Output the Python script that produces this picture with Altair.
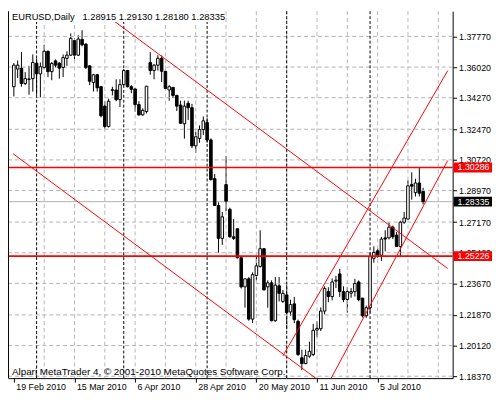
import altair as alt
import pandas as pd

# ---------------- data ----------------
dates = ["19 Feb","22 Feb","23 Feb","24 Feb","25 Feb","26 Feb",
         "1 Mar","2 Mar","3 Mar","4 Mar","5 Mar","8 Mar","9 Mar","10 Mar","11 Mar","12 Mar",
         "15 Mar","16 Mar","17 Mar","18 Mar","19 Mar","22 Mar","23 Mar","24 Mar","25 Mar","26 Mar",
         "29 Mar","30 Mar","31 Mar","1 Apr","2 Apr","5 Apr","6 Apr","7 Apr","8 Apr","9 Apr",
         "12 Apr","13 Apr","14 Apr","15 Apr","16 Apr","19 Apr","20 Apr","21 Apr","22 Apr","23 Apr",
         "26 Apr","27 Apr","28 Apr","29 Apr","30 Apr","3 May","4 May","5 May","6 May","7 May",
         "10 May","11 May","12 May","13 May","14 May","17 May","18 May","19 May","20 May","21 May",
         "24 May","25 May","26 May","27 May","28 May","31 May","1 Jun","2 Jun","3 Jun","4 Jun",
         "7 Jun","8 Jun","9 Jun","10 Jun","11 Jun","14 Jun","15 Jun","16 Jun","17 Jun","18 Jun",
         "21 Jun","22 Jun","23 Jun","24 Jun","25 Jun","28 Jun","29 Jun","30 Jun","1 Jul","2 Jul",
         "5 Jul","6 Jul","7 Jul","8 Jul","9 Jul","12 Jul","13 Jul","14 Jul","15 Jul","16 Jul",
         "19 Jul","20 Jul","21 Jul"]

opens = [1.3490,1.3591,1.3595,1.3508,1.3534,1.3536,1.3624,1.3563,1.3600,1.3692,
         1.3576,1.3637,1.3624,1.3600,1.3652,1.3670,1.3753,1.3670,1.3760,1.3733,
         1.3609,1.3514,1.3558,1.3490,1.3379,1.3263,1.3469,1.3471,1.3416,1.3502,
         1.3582,1.3490,1.3477,1.3388,1.3329,1.3348,1.3628,1.3582,1.3613,1.3652,
         1.3578,1.3471,1.3486,1.3440,1.3385,1.3278,1.3395,1.3370,1.3152,1.3195,
         1.3245,1.3285,1.3186,1.2965,1.2812,1.2624,1.2931,1.2790,1.2633,1.2679,
         1.2513,1.2347,1.2393,1.2163,1.2412,1.2463,1.2565,1.2347,1.2370,1.2154,
         1.2353,1.2264,1.2301,1.2204,1.2250,1.2150,1.1942,1.1909,1.1951,1.1961,
         1.2100,1.2108,1.2209,1.2320,1.2292,1.2380,1.2421,1.2320,1.2275,1.2311,
         1.2320,1.2375,1.2283,1.2182,1.2228,1.2510,1.2553,1.2528,1.2627,1.2627,
         1.2688,1.2642,1.2578,1.2716,1.2734,1.2931,1.2885,1.2940,1.28915]
highs = [1.3625,1.3640,1.3687,1.3573,1.3609,1.3674,1.3650,1.3628,1.3729,1.3697,
         1.3631,1.3646,1.3631,1.3674,1.3692,1.3794,1.3766,1.3784,1.3812,1.3738,
         1.3612,1.3563,1.3563,1.3493,1.3407,1.3421,1.3490,1.3532,1.3532,1.3591,
         1.3586,1.3499,1.3481,1.3407,1.3366,1.3493,1.3687,1.3619,1.3670,1.3668,
         1.3578,1.3499,1.3486,1.3444,1.3410,1.3410,1.3410,1.3392,1.3232,1.3269,
         1.3320,1.3310,1.3195,1.2992,1.2830,1.2775,1.3094,1.2799,1.2734,1.2679,
         1.2522,1.2393,1.2403,1.2430,1.2522,1.2670,1.2568,1.2384,1.2384,1.2403,
         1.2403,1.2329,1.2357,1.2274,1.2290,1.2160,1.1988,1.1988,1.2034,1.2136,
         1.2150,1.2230,1.2350,1.2345,1.2395,1.2410,1.2450,1.2350,1.2346,1.2340,
         1.2393,1.2384,1.2283,1.2240,1.2545,1.2578,1.2568,1.2633,1.2670,1.2716,
         1.2697,1.2660,1.2725,1.2775,1.2955,1.3001,1.2964,1.30286,1.29130]
lows = [1.3434,1.3540,1.3490,1.3499,1.3444,1.3462,1.3444,1.3429,1.3591,1.3545,
        1.3527,1.3600,1.3536,1.3545,1.3609,1.3665,1.3646,1.3665,1.3720,1.3591,
        1.3499,1.3462,1.3462,1.3315,1.3250,1.3257,1.3440,1.3407,1.3374,1.3499,
        1.3486,1.3453,1.3348,1.3324,1.3324,1.3337,1.3558,1.3532,1.3582,1.3517,
        1.3477,1.3410,1.3425,1.3351,1.3278,1.3193,1.3300,1.3139,1.3112,1.3170,
        1.3215,1.3170,1.2955,1.2808,1.2541,1.2587,1.2780,1.2628,1.2615,1.2510,
        1.2338,1.2228,1.2154,1.2141,1.2384,1.2458,1.2329,1.2228,1.2150,1.2148,
        1.2264,1.2255,1.2108,1.2182,1.2140,1.1952,1.1872,1.1905,1.1942,1.1952,
        1.2060,1.2095,1.2190,1.2260,1.2270,1.2340,1.2290,1.2260,1.2200,1.2285,
        1.2292,1.2265,1.2172,1.2170,1.2200,1.2485,1.2513,1.2495,1.2550,1.2618,
        1.2620,1.2578,1.2517,1.2707,1.2734,1.2845,1.2863,1.2863,1.28180]
closes = [1.3613,1.3613,1.3508,1.3536,1.3532,1.3628,1.3563,1.3604,1.3692,1.3576,
          1.3622,1.3613,1.3596,1.3656,1.3670,1.3766,1.3670,1.3762,1.3729,1.3600,
          1.3521,1.3558,1.3484,1.3324,1.3263,1.3407,1.3473,1.3416,1.3502,1.3582,
          1.3490,1.3475,1.3388,1.3329,1.3355,1.3493,1.3582,1.3613,1.3652,1.3578,
          1.3480,1.3490,1.3440,1.3379,1.3281,1.3379,1.3370,1.3152,1.3204,1.3245,
          1.3295,1.3186,1.2959,1.2812,1.2624,1.2747,1.2836,1.2633,1.2624,1.2513,
          1.2347,1.2393,1.2163,1.2417,1.2467,1.2565,1.2329,1.2370,1.2154,1.2357,
          1.2310,1.2310,1.2200,1.2246,1.2160,1.1961,1.1909,1.1955,1.1979,1.2099,
          1.2110,1.2209,1.2338,1.2292,1.2375,1.2385,1.2320,1.2275,1.2320,1.2320,
          1.2366,1.2274,1.2182,1.2228,1.2520,1.2544,1.2528,1.2620,1.2620,1.2688,
          1.2633,1.2578,1.2716,1.2740,1.2924,1.2922,1.2940,1.2882,1.28335]

price_ticks = [1.37770, 1.36020, 1.34270, 1.32470, 1.30720, 1.28970,
               1.27170, 1.25420, 1.23670, 1.21870, 1.20120, 1.18370]
date_tick_bars = [0, 16, 32, 48, 64, 80, 96]
date_tick_labels = ["19 Feb 2010", "15 Mar 2010", "6 Apr 2010", "28 Apr 2010",
                    "20 May 2010", "11 Jun 2010", "5 Jul 2010"]
grid_bars = [8, 16, 24, 32, 40, 48, 56, 64, 72, 80, 88, 96, 104, 112]
month_sep_bars = [6, 29, 51, 72, 94]
level_prices = [1.30286, 1.25226]
bid_price = 1.28335

trend_id = ["A", "A", "B", "B", "C", "C", "D", "D"]
trend_bar = [23, 114.5, -0.25, 80, 71, 114.5, 83.75, 114.5]
trend_price = [1.39203, 1.24517, 1.31079, 1.18199, 1.19531, 1.35818, 1.18260, 1.30686]

box_prices = [1.30286, 1.28335, 1.25226]
box_colors = ["#ff0000", "#000000", "#ff0000"]

title_text = "EURUSD,Daily\u00a0\u00a0 1.28915 1.29130 1.28180 1.28335"
copyright_text = "Alpari MetaTrader 4, \u00a9 2001-2010 MetaQuotes Software Corp."

# ---------------- chart ----------------
W, H = 452, 373
FONT = "Liberation Sans"
VGRID = "#b8b8b8"
HGRID = "#b0b0b0"

df = pd.DataFrame({"i": list(range(len(opens))), "date": dates,
                   "open": opens, "high": highs, "low": lows, "close": closes})

xscale = alt.Scale(domain=[-0.25, 114.5], nice=False, zero=False)
yscale = alt.Scale(domain=[1.1826, 1.3921], nice=False, zero=False)

label_expr = " : ".join(
    f"datum.value == {b} ? '{t}'" for b, t in zip(date_tick_bars, date_tick_labels)
) + " : ''"

x_axis = alt.Axis(orient="bottom", values=date_tick_bars, labelExpr=label_expr,
                  title=None, grid=False, domainColor="black", domainWidth=1,
                  tickColor="black", tickSize=4, labelAlign="left", labelOffset=2,
                  labelPadding=1, labelFont=FONT, labelFontSize=9, labelColor="black",
                  labelFlush=False, labelOverlap=False)
y_axis = alt.Axis(orient="right", values=price_ticks, format=".5f", title=None,
                  grid=False, domainColor="black", domainWidth=1, tickColor="black",
                  tickSize=4, labelFont=FONT, labelFontSize=9, labelColor="black",
                  labelPadding=2, labelFlush=False, labelOverlap=False)


def X(field):
    return alt.X(field, scale=xscale, axis=x_axis, title=None)


def Y(field):
    return alt.Y(field, scale=yscale, axis=y_axis, title=None)


FULL_W = dict(x=alt.value(0), x2=alt.value(W))

# horizontal grid
hgrid = alt.Chart(pd.DataFrame({"h": price_ticks})).mark_rule(
    stroke=HGRID, strokeDash=[4, 3], strokeWidth=1
).encode(y=Y("h:Q"), **FULL_W)

# vertical grid
vgrid = alt.Chart(pd.DataFrame({"g": grid_bars})).mark_rule(
    stroke=VGRID, strokeDash=[4, 3], strokeWidth=1
).encode(x=X("g:Q"))

# month separators
seps = alt.Chart(pd.DataFrame({"s": month_sep_bars})).mark_rule(
    stroke="black", strokeDash=[3, 2], strokeWidth=1
).encode(x=X("s:Q"))

# bid line
bid = alt.Chart(pd.DataFrame({"b": [bid_price]})).mark_rule(
    stroke=HGRID, strokeWidth=1
).encode(y=Y("b:Q"), **FULL_W)

base = alt.Chart(df)
wicks = base.mark_rule(stroke="black", strokeWidth=1).encode(
    x=X("i:Q"), y=Y("low:Q"), y2="high:Q",
)
bodies = base.mark_bar(width=2.6, stroke="black", strokeWidth=1).encode(
    x=X("i:Q"), y=Y("open:Q"), y2="close:Q",
    fill=alt.condition("datum.close >= datum.open", alt.value("white"), alt.value("black")),
)

levels = alt.Chart(pd.DataFrame({"p": level_prices})).mark_rule(
    stroke="#ff0000", strokeWidth=1.6
).encode(y=Y("p:Q"), **FULL_W)

trends = alt.Chart(pd.DataFrame({"id": trend_id, "ti": trend_bar, "tp": trend_price})).mark_line(
    stroke="#ff0000", strokeWidth=1, clip=True
).encode(x=X("ti:Q"), y=Y("tp:Q"), detail="id:N")

one = pd.DataFrame({"t": [title_text]})
title_bg = alt.Chart(one).mark_rect(fill="white").encode(
    x=alt.value(0.5), x2=alt.value(216), y=alt.value(0), y2=alt.value(11)
)
title = alt.Chart(one).mark_text(
    align="left", baseline="top", font=FONT, fontSize=9.5, fill="black"
).encode(x=alt.value(4), y=alt.value(1), text="t:N")

copyright = alt.Chart(pd.DataFrame({"c": [copyright_text]})).mark_text(
    align="left", baseline="alphabetic", font=FONT, fontSize=10, fill="black"
).encode(x=alt.value(4), y=alt.value(H - 3), text="c:N")

boxdf = pd.DataFrame({"bp": box_prices, "bc": box_colors,
                      "bl": [f"{p:.5f}" for p in box_prices]})
boxes = alt.Chart(boxdf).mark_rule(strokeWidth=10).encode(
    x=alt.value(W + 1), x2=alt.value(W + 40),
    y=Y("bp:Q"),
    stroke=alt.Stroke("bc:N", scale=None),
)
box_text = alt.Chart(boxdf).mark_text(
    align="left", baseline="middle", font=FONT, fontSize=9, fill="white"
).encode(x=alt.value(W + 5), y=Y("bp:Q"), text="bl:N")

frame = alt.Chart(pd.DataFrame({"f": [0]})).mark_rule(stroke="black", strokeWidth=1).encode(
    x=alt.value(0.5), y=alt.value(0), y2=alt.value(H)
)

chart = alt.layer(
    wicks, hgrid, vgrid, seps, bid, bodies, levels, trends, title_bg, title,
    copyright, boxes, box_text, frame
).properties(
    width=W, height=H,
    autosize=alt.AutoSizeParams(type="none"),
    padding={"left": 0, "top": 0, "right": 40, "bottom": 20},
    background="white",
).configure_view(stroke=None)

chart.save("out.html", embed_options={"renderer": "svg", "actions": False})
